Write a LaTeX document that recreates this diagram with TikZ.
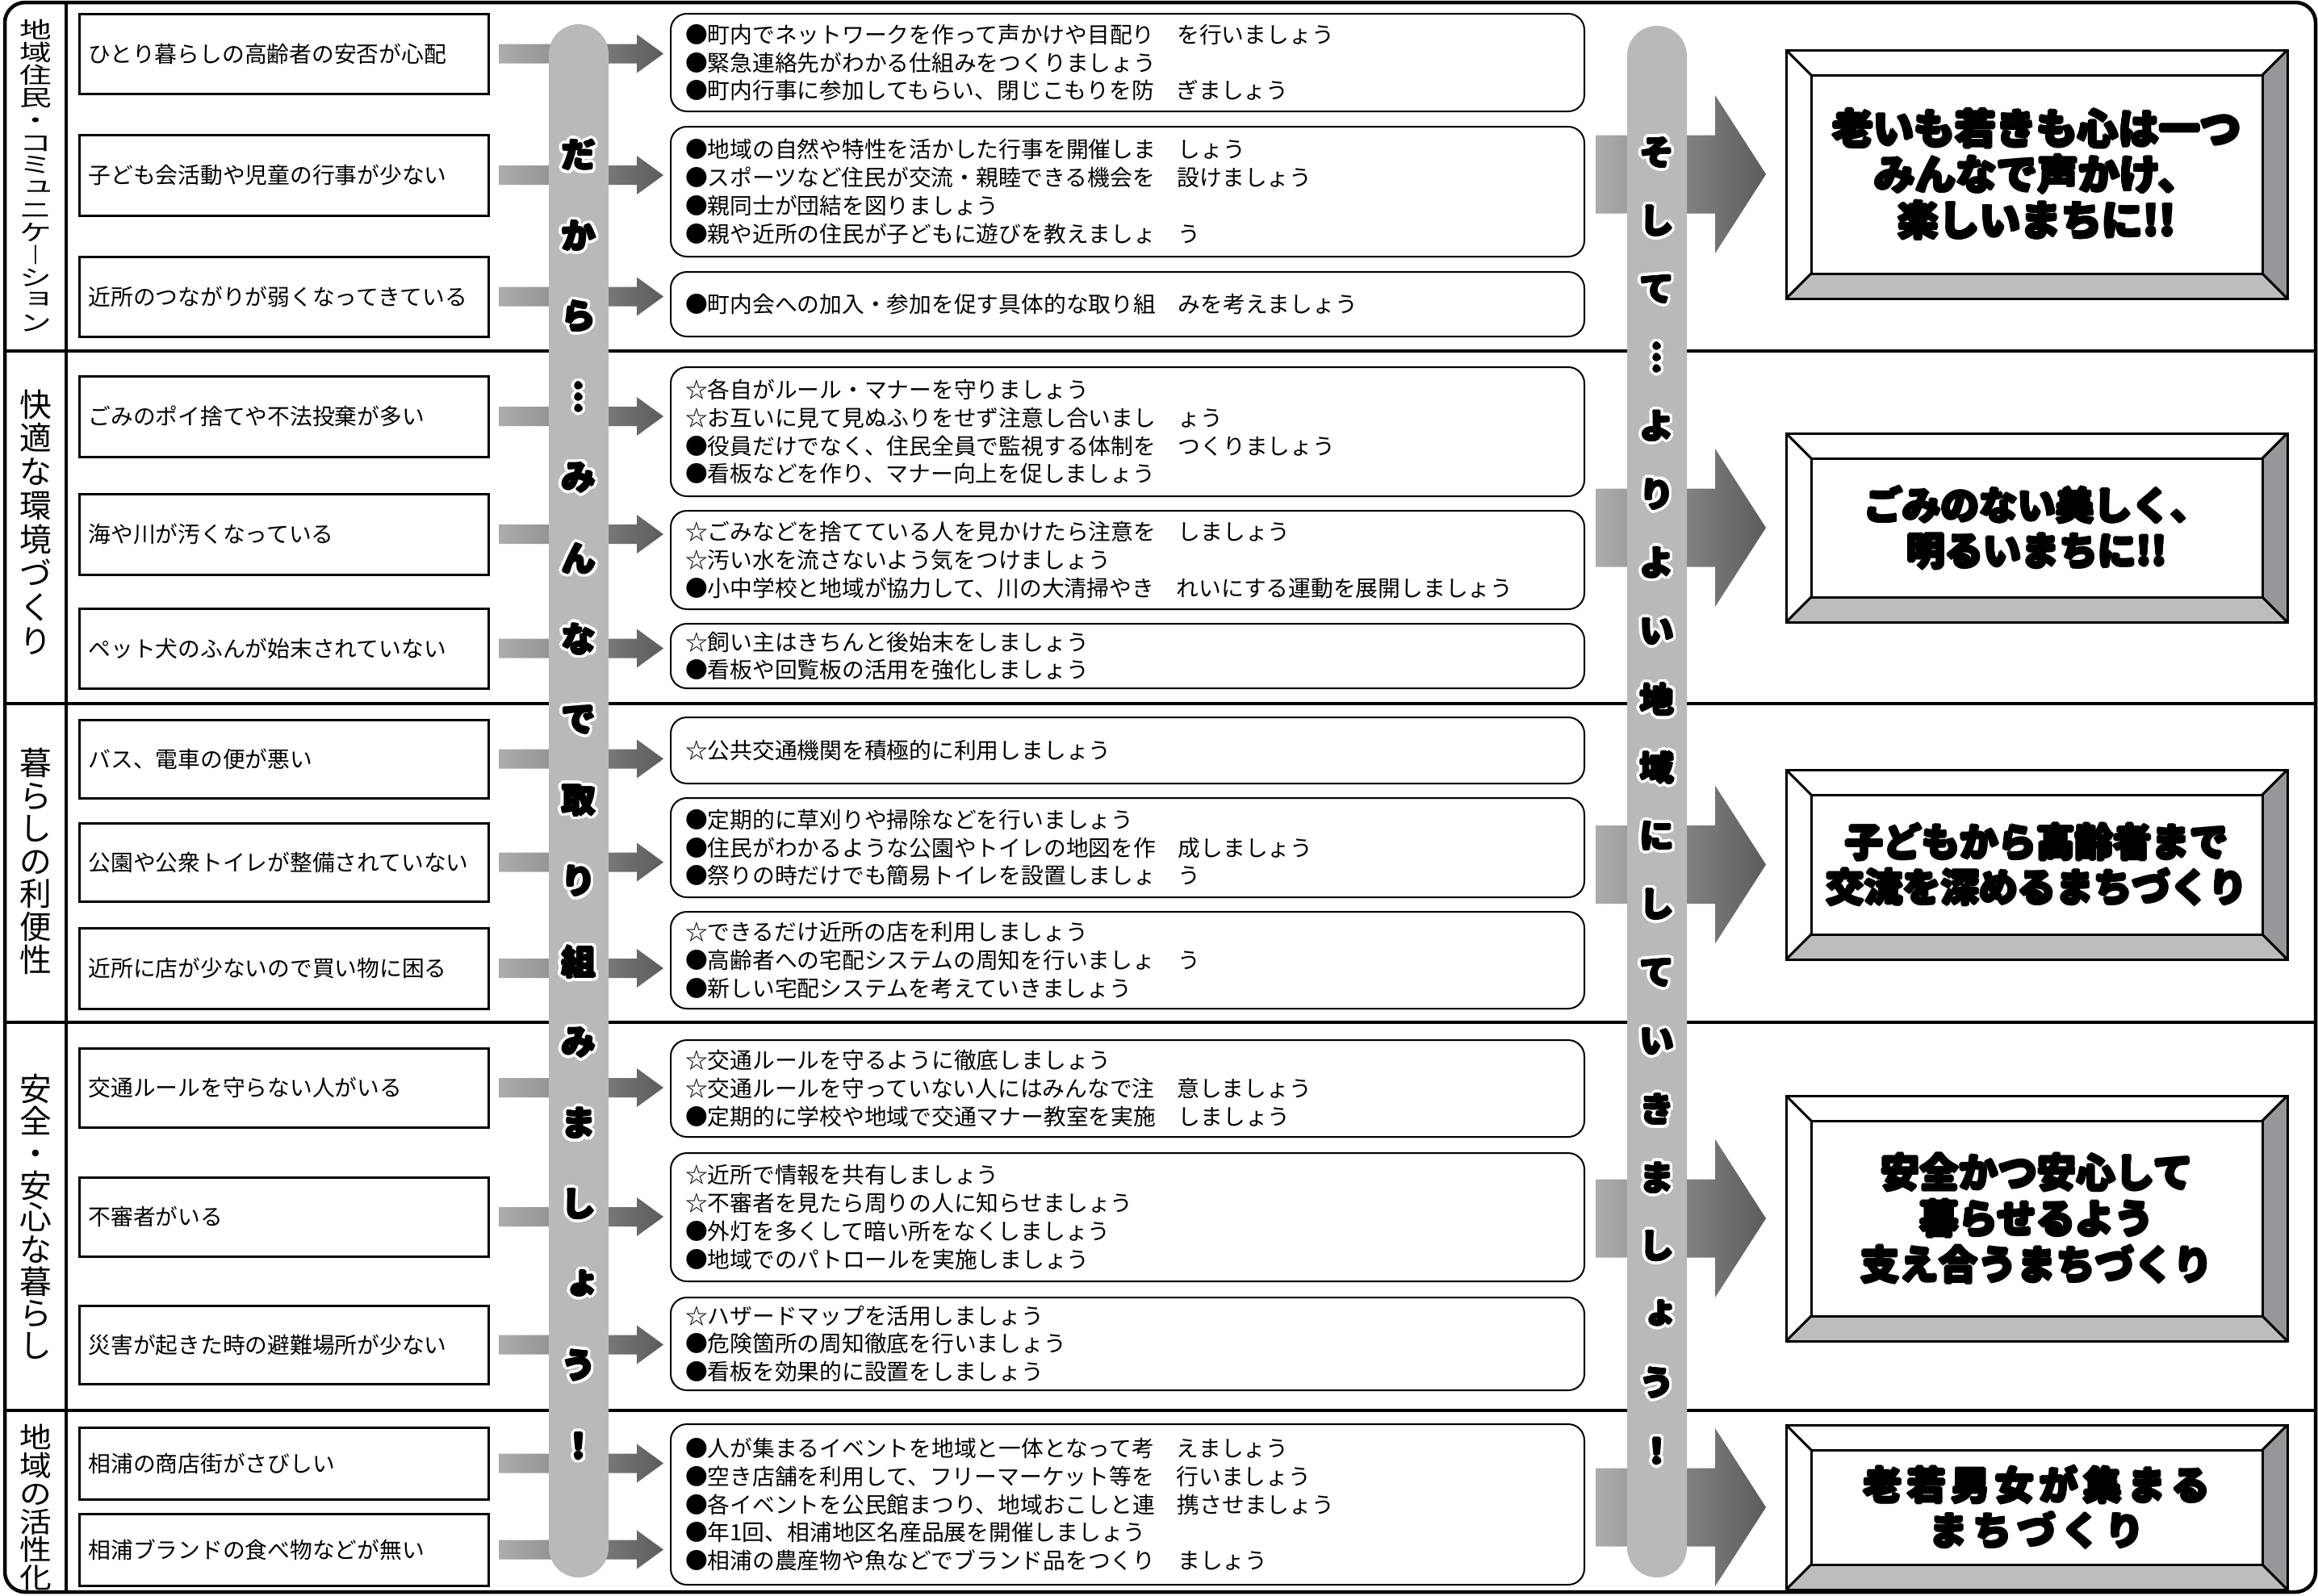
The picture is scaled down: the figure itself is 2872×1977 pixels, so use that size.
\documentclass[tikz,border=0pt]{standalone}
\usepackage{fontspec}
\usepackage{graphicx}
\setmainfont{Noto Sans CJK JP}
\usetikzlibrary{calc}

\definecolor{pillgray}{HTML}{B8B9BB}
\definecolor{bevelright}{HTML}{96979A}
\definecolor{bevelbottom}{HTML}{BCBDBF}
\definecolor{arrowlight}{HTML}{ADADAD}
\definecolor{arrowdark}{HTML}{5C5C5C}

\tikzset{
  frameline/.style={line width=0.45mm},
  probbox/.style={draw, line width=0.3mm, inner xsep=1.15mm, inner ysep=0pt, outer sep=0pt,
    text width=48.4mm, align=left, font=\fontsize{7.9pt}{9.9pt}\selectfont},
  solbox/.style={draw, line width=0.2mm, rounded corners=2mm, inner xsep=1.8mm, inner ysep=0pt,
    outer sep=0pt, text width=109.6mm, align=left, font=\fontsize{7.9pt}{9.9pt}\selectfont},
  goalbox/.style={minimum width=62.1mm, inner sep=0pt, outer sep=0pt, align=center,
    font=\bfseries\fontsize{13.5pt}{16pt}\selectfont},
  pill/.style={fill=pillgray, rounded corners=3.7mm, minimum width=7.4mm, inner sep=0pt},
  catchar/.style={inner sep=0pt, font=\fontsize{11.3pt}{11.3pt}\selectfont},
  pillchar/.style={inner sep=0pt, font=\bfseries\fontsize{12pt}{12pt}\selectfont},
  flow/.style={left color=arrowlight, right color=arrowdark},
  bevelline/.style={line width=0.3mm, line join=miter},
}

% small kana as set in vertical text
\newcommand\sm[1]{\makebox[1em][l]{\kern.12em\raisebox{.16em}{#1}}}
% heavier strokes: copies of the text round a small circle (radius in mm)
\newcommand\thick[2]{\foreach \a in {0,45,...,315}{\pgfmathsetmacro\dx{#1*cos(\a)}\pgfmathsetmacro\dy{#1*sin(\a)}\rlap{\kern\dx mm\raisebox{\dy mm}{#2}}}#2}
\newcommand\heavy[1]{\thick{0.17}{#1}}
% white rim round the letters on the grey bars
\newcommand\halo[1]{\makebox[1em][l]{\rule[-.12em]{0pt}{1em}%
  \foreach \a in {0,30,...,330}{\pgfmathsetmacro\dx{0.5*cos(\a)}\pgfmathsetmacro\dy{0.5*sin(\a)}\rlap{\kern\dx mm\raisebox{\dy mm}{\color{white}#1}}}%
  \rlap{\thick{0.12}{#1}}}}

% shaded block arrow: start, tip, half shaft, half head, head length
\newcommand\flowarrow[5]{%
  \path[flow] let \p1=(#1), \p2=(#2) in
    (\x1,{\y1+#3}) -- ({\x2-#5},{\y1+#3}) -- ({\x2-#5},{\y1+#4}) -- (\x2,\y1)
    -- ({\x2-#5},{\y1-#4}) -- ({\x2-#5},{\y1-#3}) -- (\x1,{\y1-#3}) -- cycle;}

% framed goal box with bevelled rim
\newcommand\bevel[1]{%
  \fill[bevelright] (#1.north east) -- (#1.south east) -- ($(#1.south east)+(-31,-31)$) -- ($(#1.north east)+(-31,31)$) -- cycle;
  \fill[bevelbottom] (#1.south west) -- (#1.south east) -- ($(#1.south east)+(-31,-31)$) -- ($(#1.south west)+(31,-31)$) -- cycle;
  \draw[bevelline] (#1.north west) rectangle (#1.south east);
  \draw[bevelline] ($(#1.north west)+(31,31)$) rectangle ($(#1.south east)+(-31,-31)$);
  \draw[bevelline] (#1.north west) -- ++(31,31) (#1.north east) -- ++(-31,31)
    (#1.south east) -- ++(-31,-31) (#1.south west) -- ++(31,-31);}

\begin{document}
\begin{tikzpicture}[x=0.1mm,y=-0.1mm]
  \useasboundingbox (0,0) rectangle (2872,1977);

  % frame and sections
  \draw[frameline, rounded corners=2.5mm] (6,3) rectangle (2869,1973);
  \draw[frameline] (82,3) -- (82,1973);
  \foreach \y in {435,872,1267,1748}
    \draw[frameline] (6,\y) -- (2869,\y);

  % section titles
  \foreach \c [count=\i] in {地,域,住,民,・,コ,ミ,\sm{ュ},ニ,ケ,︱,シ,\sm{ョ},ン}
    \node[catchar] (ka\i) at (44,{23+(\i-0.5)*27.9}) {\scalebox{1}[0.7]{\rule[-.12em]{0pt}{1em}\c}};
  \foreach \c [count=\i] in {快,適,な,環,境,づ,く,り}
    \node[catchar] (kb\i) at (44,{480+(\i-0.5)*41.9}) {\rule[-.12em]{0pt}{1em}\c};
  \foreach \c [count=\i] in {暮,ら,し,の,利,便,性}
    \node[catchar] (kc\i) at (44,{925+(\i-0.5)*40.6}) {\rule[-.12em]{0pt}{1em}\c};
  \foreach \c [count=\i] in {安,全,・,安,心,な,暮,ら,し}
    \node[catchar] (kd\i) at (44,{1330+(\i-0.5)*39.7}) {\rule[-.12em]{0pt}{1em}\c};
  \foreach \c [count=\i] in {地,域,の,活,性,化}
    \node[catchar] (ke\i) at (44,{1764+(\i-0.5)*34.8}) {\scalebox{1}[0.88]{\rule[-.12em]{0pt}{1em}\c}};

  % problems
  \node[probbox, minimum height=9.9mm] (p1) at (351.5,66.5) {ひとり暮らしの高齢者の安否が心配};
  \node[probbox, minimum height=10mm] (p2) at (351.5,217) {子ども会活動や児童の行事が少ない};
  \node[probbox, minimum height=9.9mm] (p3) at (351.5,367.5) {近所のつながりが弱くなってきている};
  \node[probbox, minimum height=10mm] (p4) at (351.5,516) {ごみのポイ捨てや不法投棄が多い};
  \node[probbox, minimum height=10mm] (p5) at (351.5,662) {海や川が汚くなっている};
  \node[probbox, minimum height=9.9mm] (p6) at (351.5,803.5) {ペット犬のふんが始末されていない};
  \node[probbox, minimum height=9.7mm] (p7) at (351.5,940.5) {バス、電車の便が悪い};
  \node[probbox, minimum height=9.7mm] (p8) at (351.5,1068.5) {公園や公衆トイレが整備されていない};
  \node[probbox, minimum height=10mm] (p9) at (351.5,1200) {近所に店が少ないので買い物に困る};
  \node[probbox, minimum height=9.8mm] (p10) at (351.5,1348) {交通ルールを守らない人がいる};
  \node[probbox, minimum height=9.8mm] (p11) at (351.5,1508) {不審者がいる};
  \node[probbox, minimum height=9.7mm] (p12) at (351.5,1666.5) {災害が起きた時の避難場所が少ない};
  \node[probbox, minimum height=8.9mm] (p13) at (351.5,1813.5) {相浦の商店街がさびしい};
  \node[probbox, minimum height=8.9mm] (p14) at (351.5,1920.5) {相浦ブランドの食べ物などが無い};

  % measures
  \node[solbox, minimum height=12.1mm] (s1) at (1397,77.5) {●町内でネットワークを作って声かけや目配り　を行いましょう\\●緊急連絡先がわかる仕組みをつくりましょう\\●町内行事に参加してもらい、閉じこもりを防　ぎましょう};
  \node[solbox, minimum height=16.1mm] (s2) at (1397,237.5) {●地域の自然や特性を活かした行事を開催しま　しょう\\●スポーツなど住民が交流・親睦できる機会を　設けましょう\\●親同士が団結を図りましょう\\●親や近所の住民が子どもに遊びを教えましょ　う};
  \node[solbox, minimum height=8mm] (s3) at (1397,377) {●町内会への加入・参加を促す具体的な取り組　みを考えましょう};
  \node[solbox, minimum height=16mm] (s4) at (1397,535) {☆各自がルール・マナーを守りましょう\\☆お互いに見て見ぬふりをせず注意し合いまし　ょう\\●役員だけでなく、住民全員で監視する体制を　つくりましょう\\●看板などを作り、マナー向上を促しましょう};
  \node[solbox, minimum height=12.2mm] (s5) at (1397,694) {☆ごみなどを捨てている人を見かけたら注意を　しましょう\\☆汚い水を流さないよう気をつけましょう\\●小中学校と地域が協力して、川の大清掃やき　れいにする運動を展開しましょう};
  \node[solbox, minimum height=8mm] (s6) at (1397,813) {☆飼い主はきちんと後始末をしましょう\\●看板や回覧板の活用を強化しましょう};
  \node[solbox, minimum height=8.2mm] (s7) at (1397,930) {☆公共交通機関を積極的に利用しましょう};
  \node[solbox, minimum height=12.3mm] (s8) at (1397,1050.5) {●定期的に草刈りや掃除などを行いましょう\\●住民がわかるような公園やトイレの地図を作　成しましょう\\●祭りの時だけでも簡易トイレを設置しましょ　う};
  \node[solbox, minimum height=12mm] (s9) at (1397,1190) {☆できるだけ近所の店を利用しましょう\\●高齢者への宅配システムの周知を行いましょ　う\\●新しい宅配システムを考えていきましょう};
  \node[solbox, minimum height=12mm] (s10) at (1397,1349) {☆交通ルールを守るように徹底しましょう\\☆交通ルールを守っていない人にはみんなで注　意しましょう\\●定期的に学校や地域で交通マナー教室を実施　しましょう};
  \node[solbox, minimum height=15.9mm] (s11) at (1397,1508.5) {☆近所で情報を共有しましょう\\☆不審者を見たら周りの人に知らせましょう\\●外灯を多くして暗い所をなくしましょう\\●地域でのパトロールを実施しましょう};
  \node[solbox, minimum height=11.5mm] (s12) at (1397,1665.5) {☆ハザードマップを活用しましょう\\●危険箇所の周知徹底を行いましょう\\●看板を効果的に設置をしましょう};
  \node[solbox, minimum height=19.9mm] (s13) at (1397,1864.5) {●人が集まるイベントを地域と一体となって考　えましょう\\●空き店舗を利用して、フリーマーケット等を　行いましょう\\●各イベントを公民館まつり、地域おこしと連　携させましょう\\●年1回、相浦地区名産品展を開催しましょう\\●相浦の農産物や魚などでブランド品をつくり　ましょう};

  % goals
  \node[goalbox, minimum height=30.8mm, font=\bfseries\fontsize{14.4pt}{16.1pt}\selectfont] (r1) at (2523.5,216)
    {\heavy{老いも若きも心は一つ}\\\heavy{みんなで声かけ、}\\\heavy{楽しいまちに!!}};
  \node[goalbox, minimum height=23.4mm] (r2) at (2523.5,654) {\heavy{ごみのない美しく、}\\\heavy{明るいまちに!!}};
  \node[goalbox, minimum height=23.5mm] (r3) at (2523.5,1071.5) {\heavy{子どもから高齢者まで}\\\heavy{交流を深めるまちづくり}};
  \node[goalbox, minimum height=30.4mm, font=\bfseries\fontsize{13.8pt}{16.2pt}\selectfont] (r4) at (2523.5,1510)
    {\heavy{安全かつ安心して}\\\heavy{暮らせるよう}\\\heavy{支え合うまちづくり}};
  \node[goalbox, minimum height=20.4mm] (r5) at (2523.5,1868)
    {\addfontfeature{LetterSpace=15}\heavy{老若男女が集まる}\\\addfontfeature{LetterSpace=15}\heavy{まちづくり}};
  \foreach \gn in {r1,r2,r3,r4,r5}{
    \bevel{\gn}
  }

  % arrows problem -> measure
  \foreach \pn/\sn in {p1/s1,p2/s2,p3/s3,p4/s4,p5/s5,p6/s6,p7/s7,p8/s8,p9/s9,p10/s10,p11/s11,p12/s12,p13/s13,p14/s13}{
    \flowarrow{$(\pn.east)+(13,0)$}{$(\pn.east -| \sn.west)+(-9,0)$}{1.2mm}{2.4mm}{3.3mm}
  }

  % arrows measures -> goal
  \foreach \sn/\gn in {s1/r1,s4/r2,s7/r3,s10/r4,s13/r5}{
    \flowarrow{$(\gn.west -| \sn.east)+(14,0)$}{$(\gn.west)+(-25,0)$}{4.85mm}{9.8mm}{6.3mm}
  }

  % grey bars
  \node[pill, minimum height=192.5mm] (pill1) at (717,992.5) {};
  \node[pill, minimum height=192.3mm] (pill2) at (2053,993.5) {};
  \foreach \c [count=\i] in {だ,か,ら,︙,み,ん,な,で,取,り,組,み,ま,し,\sm{ょ},う,！}
    \node[pillchar] (a\i) at (717,{192+(\i-1)*100}) {\halo{\c}};
  \foreach \c [count=\i] in {そ,し,て,︙,よ,り,よ,い,地,域,に,し,て,い,き,ま,し,\sm{ょ},う,！}
    \node[pillchar] (b\i) at (2053,{189+(\i-1)*84.7}) {\halo{\c}};
\end{tikzpicture}
\end{document}
